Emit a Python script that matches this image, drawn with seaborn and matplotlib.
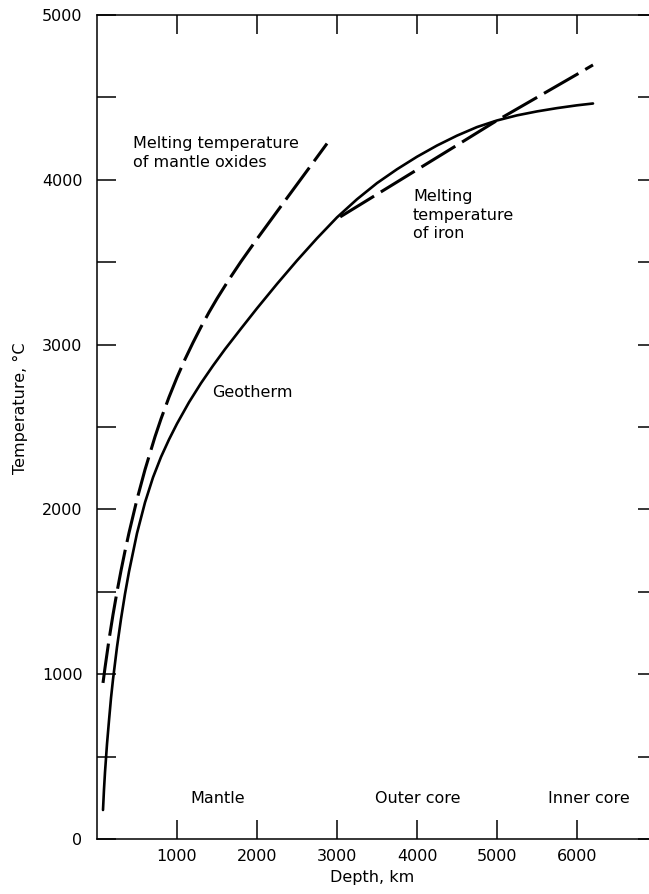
import matplotlib
matplotlib.use("Agg")
import matplotlib.pyplot as plt
import seaborn as sns
import pandas as pd
from matplotlib.ticker import FixedLocator, MultipleLocator

# Geotherm (solid curve): depth in km, temperature in degrees C
geotherm_depth = [75, 87, 100, 125, 150, 175, 200, 250, 300, 350, 400, 500,
                  600, 700, 800, 900, 1000, 1150, 1300, 1450, 1600, 1800,
                  2000, 2250, 2500, 2750, 3000, 3250, 3500, 3750, 4000, 4250,
                  4500, 4750, 5000, 5250, 5500, 5750, 6000, 6200]
geotherm_temp = [176, 297, 405, 576, 719, 855, 968, 1165, 1335, 1487, 1622,
                 1855, 2042, 2194, 2318, 2424, 2520, 2650, 2766, 2872, 2972,
                 3097, 3220, 3368, 3510, 3645, 3772, 3882, 3980, 4064, 4140,
                 4208, 4268, 4320, 4360, 4391, 4415, 4435, 4452, 4463]

# Melting temperature of mantle oxides (dashed)
oxides_depth = [75, 100, 150, 200, 250, 300, 350, 400, 500, 600, 725, 800,
                900, 1000, 1100, 1200, 1300, 1400, 1500, 1650, 1800, 2000,
                2250, 2500, 2700, 2875]
oxides_temp = [947, 1039, 1209, 1361, 1500, 1628, 1747, 1858, 2061, 2241,
               2441, 2549, 2681, 2801, 2911, 3012, 3107, 3196, 3279, 3395,
               3504, 3641, 3807, 3972, 4104, 4220]

# Melting temperature of iron (dashed)
iron_depth = [3040, 3500, 4000, 4500, 5000, 5500, 6000, 6200]
iron_temp = [3775, 3912, 4061, 4210, 4360, 4500, 4640, 4697]

# Zone names along the bottom
zone_names = ["Mantle", "Outer core", "Inner core"]
zone_depth = [1510, 4010, 6150]

x_ticks = [1000, 2000, 3000, 4000, 5000, 6000]
y_ticks = [0, 1000, 2000, 3000, 4000, 5000]

sns.set_style("white")
plt.rcParams["font.family"] = ["DejaVu Sans"]
plt.rcParams["text.color"] = "black"
FS = 11.5

fig = plt.figure(figsize=(6.49, 8.94), dpi=100)
ax = fig.add_axes([97 / 649, 55 / 894, 560 / 649, 824 / 894])

geo = pd.DataFrame({"depth": geotherm_depth, "temp": geotherm_temp})
oxd = pd.DataFrame({"depth": oxides_depth, "temp": oxides_temp})
irn = pd.DataFrame({"depth": iron_depth, "temp": iron_temp})

sns.lineplot(data=geo, x="depth", y="temp", ax=ax, color="black", lw=1.9,
             estimator=None, sort=False)
sns.lineplot(data=oxd, x="depth", y="temp", ax=ax, color="black", lw=2.2,
             estimator=None, sort=False, linestyle=(0, (13, 2.6)))
sns.lineplot(data=irn, x="depth", y="temp", ax=ax, color="black", lw=2.2,
             estimator=None, sort=False, linestyle=(0, (13, 2.6)))

ax.set_xlim(0, 7000)
ax.set_ylim(0, 5000)

ax.xaxis.set_major_locator(FixedLocator(x_ticks))
ax.yaxis.set_major_locator(FixedLocator(y_ticks))
ax.yaxis.set_minor_locator(MultipleLocator(500))
ax.set_xticklabels([str(v) for v in x_ticks])
ax.set_yticklabels([str(v) for v in y_ticks])

ax.tick_params(axis="both", which="both", direction="in", top=True,
               right=True, bottom=True, left=True, length=14, width=1.1,
               color="black", labelsize=FS, labelcolor="black")
ax.tick_params(axis="y", which="both", pad=10.5)
ax.tick_params(axis="x", which="both", pad=7)

for s in ax.spines.values():
    s.set_linewidth(1.1)
    s.set_color("black")

ax.set_xlabel("Depth, km", fontsize=FS, color="black")
ax.xaxis.set_label_coords(0.491, -0.038)
ax.set_ylabel("Temperature, \u00b0C", fontsize=FS, color="black")
ax.yaxis.set_label_coords(-0.123, 0.523)

ax.text(450, 4163, "Melting temperature\nof mantle oxides", ha="left",
        va="center", fontsize=FS, linespacing=1.3)
ax.text(3950, 3786, "Melting\ntemperature\nof iron", ha="left", va="center",
        fontsize=FS, linespacing=1.3)
ax.text(1440, 2712, "Geotherm", ha="left", va="center", fontsize=FS)

for name, d in zip(zone_names, zone_depth):
    ax.text(d, 243, name, ha="center", va="center", fontsize=FS)

fig.savefig("out.png", dpi=100)
